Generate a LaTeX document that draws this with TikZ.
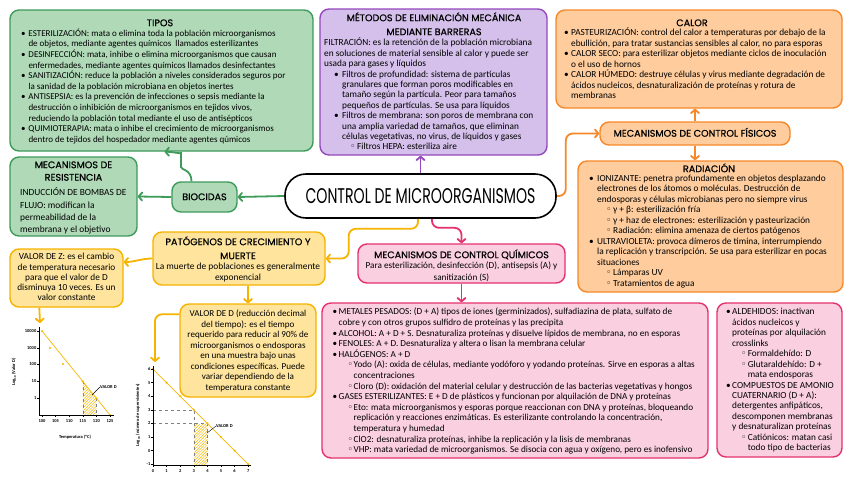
\documentclass[tikz,border=0pt]{standalone}
\usepackage{fontspec}
\setmainfont{Carlito}
\newfontfamily\bodyfont{Carlito}
\newfontfamily\headfont[FakeBold=0.6]{Poppins}
\newfontfamily\titlefont{Poppins}
\newfontfamily\symfont{DejaVu Sans}
\usetikzlibrary{arrows.meta,fit,patterns.meta}

\definecolor{gfill}{HTML}{AFD9B7}
\definecolor{gline}{HTML}{3E9B5A}
\definecolor{pfill}{HTML}{D4C0EA}
\definecolor{pline}{HTML}{9548BD}
\definecolor{ofill}{HTML}{FECC9D}
\definecolor{oline}{HTML}{F7882A}
\definecolor{kfill}{HTML}{FAD0E0}
\definecolor{kline}{HTML}{E5316F}
\definecolor{yfill}{HTML}{FEE49D}
\definecolor{yline}{HTML}{F5B400}
\definecolor{gyel}{HTML}{F5B800}

\newlength\bw \newlength\sg \newlength\sw
\newcommand\bu{\makebox[\bw][l]{\textbullet}}
\newcommand\ind{\makebox[\bw]{}}
\newcommand\sbu{\makebox[\bw]{}\makebox[\sg]{}\makebox[\sw][l]{\symfont\char"25E6}}
\newcommand\sind{\makebox[\bw]{}\makebox[\sg]{}\makebox[\sw]{}}
\newcommand\fs{\rule{0pt}{8pt}}
\newcommand\hs{\rule{0pt}{9pt}}
\newcommand\pad{\makebox[10pt]{}}
\newcommand\bset[6]{\bodyfont\fontsize{#1}{#2}\selectfont\setlength\bw{#3}\setlength\sg{#4}\setlength\sw{#5}#6}

\tikzset{
  box/.style={rounded corners=9pt, line width=1.4pt, inner sep=0pt},
  gbox/.style={box, draw=gline, fill=gfill},
  pbox/.style={box, draw=pline, fill=pfill},
  obox/.style={box, draw=oline, fill=ofill},
  kbox/.style={box, draw=kline, fill=kfill},
  ybox/.style={box, draw=yline, fill=yfill},
  conn/.style={line width=1.8pt, rounded corners=7pt, -{Straight Barb[round,length=3.5pt,width=8pt]}},
  body/.style={align=left, inner sep=0pt, anchor=north west},
  cbody/.style={align=center, inner sep=0pt, anchor=north},
  head/.style={align=center, inner sep=0pt, anchor=north, font=\headfont\fontsize{9.6}{12}\selectfont},
  glab/.style={inner sep=0pt, font=\bodyfont\bfseries\fontsize{4.5}{5}\selectfont},
}

\begin{document}
\begin{tikzpicture}[x=1pt,y=-1pt]
\useasboundingbox (0,0) rectangle (848,477);
\fill[white] (0,0) rectangle (848,477);

%%% graphs
% left graph
\fill[pattern={Lines[angle=45,distance=2pt,line width=0.5pt]}, pattern color=gyel] (82.8,381.4) -- (96.4,398.2) -- (96.4,415) -- (82.8,415) -- cycle;
\draw[gray, dashed, line width=0.4pt] (82.8,381.4) -- (82.8,415) (96.4,398.2) -- (96.4,415);
\draw[gyel, line width=0.7pt] (42,331) -- (110,415);
\foreach \p in {(42,331),(50,348),(63,364),(82.8,381.4),(96.4,398.2),(110,415)} \fill[gyel] \p circle (1.2pt);
\draw[line width=0.5pt] (39,327) -- (39,415) -- (114,415);
\foreach \y/\l in {331/10000,348/1000,364/100,381.4/10,398.2/1} {
  \draw[line width=0.4pt] (37,\y) -- (39,\y);
  \node[glab, anchor=east] (ly\l) at (36.5,\y) {\l};
}
\foreach \x/\l in {42/100,55.6/105,69.2/110,82.8/115,96.4/120,110/125} {
  \draw[line width=0.4pt] (\x,415) -- (\x,417);
  \node[glab, anchor=north] (lx\l) at (\x,419) {\l};
}
\node[glab] (lxlab) at (75,437) {Temperatura (ºC)};
\node[glab, rotate=90] (lylab) at (14,372) {Log\textsubscript{10} (Valor D)};
\node[glab, anchor=west] (lvd) at (100,387) {VALOR D};
\coordinate (lvdp) at (92,395);
\draw[line width=0.4pt] (lvdp) -- (lvd.west);

% right graph
\fill[pattern={Lines[angle=45,distance=2pt,line width=0.5pt]}, pattern color=gyel] (193.8,424.5) rectangle (207.4,465);
\draw[gray, dashed, line width=0.4pt] (153,409.8) -- (193.8,409.8) -- (193.8,465) (153,423.4) -- (207.4,423.4) -- (207.4,465);
\draw[gyel, line width=0.7pt] (153,369) -- (248.2,464.2);
\foreach \v in {0,...,7} \fill[gyel] (153+13.6*\v,369+13.6*\v) circle (1.2pt);
\draw[line width=0.5pt] (153,366) -- (153,465) -- (251,465);
\foreach \v/\l in {0/6,1/5,2/4,3/3,4/2,5/1,6/0,7/-1} {
  \draw[line width=0.4pt] (151,369+13.6*\v) -- (153,369+13.6*\v);
  \node[glab, anchor=east] (ry\v) at (150.5,369+13.6*\v) {\l};
}
\foreach \v in {0,...,7} {
  \draw[line width=0.4pt] (153+13.6*\v,465) -- (153+13.6*\v,467);
  \node[glab, anchor=north] (rx\v) at (153+13.6*\v,469) {\v};
}
\node[glab, rotate=90] (rylab) at (138,415) {Log\textsubscript{10} (número de supervivientes)};
\node[glab, anchor=west] (rvd) at (216,426) {VALOR D};
\coordinate (rvdp) at (207,433);
\draw[line width=0.4pt] (rvdp) -- (rvd.west);

%%% boxes
\node[gbox, fit={(10,10) (313,151)}] (tipos) {};
\node[gbox, fit={(10,157) (137,236)}] (res) {};
\node[gbox, fit={(172,182) (237,212)}] (bio) {};
\node[pbox, fit={(320,9) (547,155)}] (purple) {};
\node[obox, fit={(556,10) (842,108)}] (calor) {};
\node[obox, fit={(600,122) (790,145)}] (fis) {};
\node[obox, fit={(578,161) (843,292)}] (rad) {};
\node[draw=black, fill=white, line width=1.6pt, rounded corners=21pt, inner sep=0pt, fit={(285,174) (556,218)}] (title) {};
\node[kbox, fit={(358,244) (565,283)}] (quim) {};
\node[kbox, fit={(322,303) (708,458)}] (pink2) {};
\node[kbox, fit={(717,303) (842,457)}] (pink3) {};
\node[ybox, fit={(153,232) (325,285)}] (pat) {};
\node[ybox, fit={(10,249) (123,307)}] (valZ) {};
\node[ybox, fit={(180,304) (316,397)}] (valD) {};

%%% texts
\node[inner sep=0pt] (titleT) at (420.5,196) {\resizebox{230pt}{15pt}{\titlefont CONTROL DE MICROORGANISMOS}};

\node[head] (tiposH) at (160,17) {\hs TIPOS};
\node[body, font={\bset{9.0}{10.6}{7.3pt}{8pt}{7pt}{}}] (tiposB) at (21,28) {\fs\bu ESTERILIZACIÓN: mata o elimina toda la población microorganismos\\
\ind de objetos, mediante agentes químicos\ \ llamados esterilizantes\\
\bu DESINFECCIÓN: mata, inhibe o elimina microorganismos que causan\\
\ind enfermedades, mediante agentes químicos llamados desinfectantes\\
\bu SANITIZACIÓN: reduce la población a niveles considerados seguros por\\
\ind la sanidad de la población microbiana en objetos inertes\\
\bu ANTISEPSIA: es la prevención de infecciones o sepsis mediante la\\
\ind destrucción o inhibición de microorganismos en tejidos vivos,\\
\ind reduciendo la población total mediante el uso de antisépticos\\
\bu QUIMIOTERAPIA: mata o inhibe el crecimiento de microorganismos\\
\ind dentro de tejidos del hospedador mediante agentes qúmicos};

\node[head, font=\headfont\fontsize{9.6}{12.5}\selectfont] (resH) at (73.5,159) {\hs MECANISMOS DE\\RESISTENCIA};
\node[body, font={\bset{9.4}{12.3}{0pt}{0pt}{0pt}{}}] (resB) at (20,187.7) {\fs INDUCCIÓN DE BOMBAS DE\\FLUJO: modifican la\\permeabilidad de la\\membrana y el objetivo};

\node[head] (bioH) at (204.5,191) {\hs BIOCIDAS};

\node[head, font=\headfont\fontsize{9.6}{14}\selectfont] (purH) at (434,12) {\hs MÉTODOS DE ELIMINACIÓN MECÁNICA\\MEDIANTE BARRERAS};
\node[body, font={\bset{9.3}{10.4}{8pt}{8pt}{7pt}{}}] (purB) at (324,37.7) {\fs FILTRACIÓN: es la retención de la población microbiana\\
en soluciones de material sensible al calor y puede ser\\
usada para gases y líquidos\\
\pad\bu Filtros de profundidad: sistema de partículas\\
\pad\ind granulares que forman poros modificables en\\
\pad\ind tamaño según la partícula. Peor para tamaños\\
\pad\ind pequeños de partículas. Se usa para líquidos\\
\pad\bu Filtros de membrana: son poros de membrana con\\
\pad\ind una amplia variedad de tamaños, que eliminan\\
\pad\ind células vegetativas, no virus, de líquidos y gases\\
\pad\sbu Filtros HEPA: esteriliza aire};

\node[head] (calH) at (692,17) {\hs CALOR};
\node[body, font={\bset{9.3}{10.5}{7pt}{8pt}{7pt}{}}] (calB) at (564,27.7) {\fs\bu PASTEURIZACIÓN: control del calor a temperaturas por debajo de la\\
\ind ebullición, para tratar sustancias sensibles al calor, no para esporas\\
\bu CALOR SECO: para esterilizar objetos mediante ciclos de inoculación\\
\ind o el uso de hornos\\
\bu CALOR HÚMEDO: destruye células y virus mediante degradación de\\
\ind ácidos nucleicos, desnaturalización de proteínas y rotura de\\
\ind membranas};

\node[head] (fisH) at (695,127.5) {\hs MECANISMOS DE CONTROL FÍSICOS};

\node[head] (radH) at (709,163) {\hs RADIACIÓN};
\node[body, font={\bset{9.3}{10.5}{8pt}{9pt}{7pt}{}}] (radB) at (589,173) {\fs\bu IONIZANTE: penetra profundamente en objetos desplazando\\
\ind electrones de los átomos o moléculas. Destrucción de\\
\ind endosporas y células microbianas pero no siempre virus\\
\sbu γ + β: esterilización fría\\
\sbu γ + haz de electrones: esterilización y pasteurización\\
\sbu Radiación: elimina amenaza de ciertos patógenos\\
\bu ULTRAVIOLETA: provoca dímeros de timina, interrumpiendo\\
\ind la replicación y transcripción. Se usa para esterilizar en pocas\\
\ind situaciones\\
\sbu Lámparas UV\\
\sbu Tratamientos de agua};

\node[head] (quimH) at (461.5,249) {\hs MECANISMOS DE CONTROL QUÍMICOS};
\node[cbody, font={\bset{9.2}{11.5}{0pt}{0pt}{0pt}{}}] (quimB) at (461.5,260.4) {\fs Para esterilización, desinfección (D), antisepsis (A) y\\sanitización (S)};

\node[body, font={\bset{9.2}{10.6}{6pt}{9pt}{6pt}{}}] (pinkB) at (332.5,306.7) {\fs\bu METALES PESADOS: (D + A) tipos de iones (germinizados), sulfadiazina de plata, sulfato de\\
\ind cobre y con otros grupos sulfidro de proteínas y las precipita\\
\bu ALCOHOL: A + D + S. Desnaturaliza proteínas y disuelve lípidos de membrana, no en esporas\\
\bu FENOLES: A + D. Desnaturaliza y altera o lisan la membrana celular\\
\bu HALÓGENOS: A + D\\
\sbu Yodo (A): oxida de células, mediante yodóforo y yodando proteínas. Sirve en esporas a altas\\
\sind concentraciones\\
\sbu Cloro (D): oxidación del material celular y destrucción de las bacterias vegetativas y hongos\\
\bu GASES ESTERILIZANTES: E + D de plásticos y funcionan por alquilación de DNA y proteínas\\
\sbu Eto: mata microorganismos y esporas porque reaccionan con DNA y proteínas, bloqueando\\
\sind replicación y reacciones enzimáticas. Es esterilizante controlando la concentración,\\
\sind temperatura y humedad\\
\sbu ClO2: desnaturaliza proteínas, inhibe la replicación y la lisis de membranas\\
\sbu VHP: mata variedad de microorganismos. Se disocia con agua y oxígeno, pero es inofensivo};

\node[body, font={\bset{9.3}{10.45}{6pt}{9pt}{6.6pt}{}}] (pink3B) at (726,306.7) {\fs\bu ALDEHIDOS: inactivan\\
\ind ácidos nucleicos y\\
\ind proteínas por alquilación\\
\ind crosslinks\\
\sbu Formaldehído: D\\
\sbu Glutaraldehído: D +\\
\sind mata endosporas\\
\bu COMPUESTOS DE AMONIO\\
\ind CUATERNARIO (D + A):\\
\ind detergentes anfipáticos,\\
\ind descomponen membranas\\
\ind y desnaturalizan proteínas\\
\sbu Catiónicos: matan casi\\
\sind todo tipo de bacterias};

\node[head, font=\headfont\fontsize{9.6}{14}\selectfont] (patH) at (238,236) {\hs PATÓGENOS DE CRECIMIENTO Y\\MUERTE};
\node[cbody, font={\bset{9.4}{10.5}{0pt}{0pt}{0pt}{}}] (patB) at (238,261.7) {\fs La muerte de poblaciones es generalmente\\exponencial};

\node[cbody, font={\bset{9.3}{10.25}{0pt}{0pt}{0pt}{}}] (valZB) at (66.5,251.7) {\fs VALOR DE Z: es el cambio\\de temperatura necesario\\para que el valor de D\\disminuya 10 veces. Es un\\valor constante};

\node[cbody, font={\bset{9.1}{10.45}{0pt}{0pt}{0pt}{}}] (valDB) at (248,308.7) {\fs VALOR DE D (reducción decimal\\del tiempo): es el tiempo\\requerido para reducir al 90\% de\\microorganismos o endosporas\\en una muestra bajo unas\\condiciones específicas. Puede\\variar dependiendo de la\\temperatura constante};

%%% connectors
\coordinate (bturn) at (181,160);
\coordinate (gD) at (155,362);
\coordinate (gZ) at (40,323);
\draw[conn, gline] (title.west) -- (bio.east);
\draw[conn, gline] (bio.west) -- (res.east);
\draw[conn, gline] ([xshift=-13pt]bio.north) .. controls +(0,-12) and +(0,10) .. (bturn) .. controls +(0,-6) and +(8,0) .. ([xshift=3pt]tipos.south);
\draw[conn, pline] (title.north) -- (title.north |- purple.south);
\draw[conn, oline] (title.east) -- ++(9,0) |- (fis.west);
\draw[conn, oline] (fis.north) -- (fis.north |- calor.south);
\draw[conn, oline] (fis.south) -- (fis.south |- rad.north);
\draw[conn, kline] ([xshift=11.5pt]title.south) -- ++(0,9) -| (quim.north);
\draw[conn, kline] (quim.south) -- (quim.south |- pink2.north);
\draw[conn, yline] ([xshift=-2.5pt]title.south) -- ++(0,10) -| ([xshift=23pt]pat.east) -- (pat.east);
\draw[conn, yline] (pat.west) to[out=180,in=0] ([yshift=16pt]valZ.east);
\draw[conn, yline] (pat.south -| valD.north) -- (valD.north);
\draw[conn, yline] ([yshift=-11pt]valD.north west) -| (gD);
\draw[conn, yline] ([xshift=30pt]valZ.south west) -- (gZ);
\end{tikzpicture}
\end{document}
